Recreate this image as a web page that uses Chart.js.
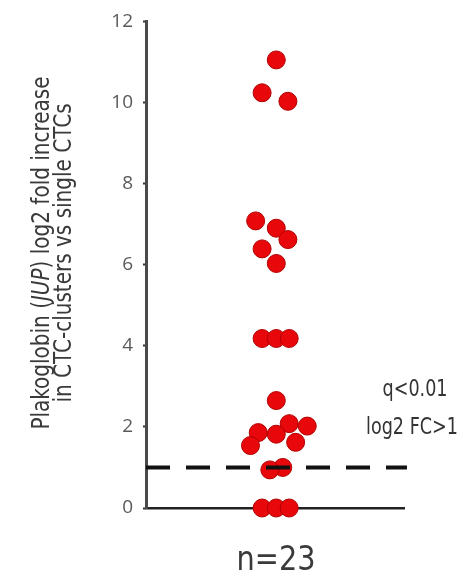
<!DOCTYPE html>
<html>
<head>
<meta charset="utf-8">
<script src="https://cdn.jsdelivr.net/npm/chart.js@4/dist/chart.umd.min.js"></script>
<style>
  html, body { margin: 0; padding: 0; background: #ffffff; }
  #wrap { width: 475px; height: 577px; }
</style>
</head>
<body>
<div id="wrap"><canvas id="plot" width="475" height="577"></canvas></div>
<script>
// JUP log2 fold increase per patient (CTC-clusters vs single CTCs)
const foldIncrease = [11.05, 10.24, 10.03, 7.08, 6.90, 6.62, 6.39, 6.03, 4.18, 4.18, 4.18,
                      2.65, 2.08, 2.02, 1.86, 1.82, 1.62, 1.54, 1.00, 0.94, 0, 0, 0];
// horizontal spread of the dots around the single group
const spread = [0.01, -0.10, 0.10, -0.15, 0.01, 0.10, -0.10, 0.01, -0.10, 0.01, 0.11,
                0.01, 0.11, 0.25, -0.13, 0.01, 0.16, -0.19, 0.06, -0.04, -0.10, 0.01, 0.11];
const threshold = 1;            // log2 FC cut-off
const yTicks = [0, 2, 4, 6, 8, 10, 12];
const sampleLabel = 'n=23';
const cutoffLabels = ['q<0.01', 'log2 FC>1'];
const titleLine1 = [['Plakoglobin (', false], ['JUP', true], [') log2 fold increase', false]];
const titleLine2 = 'in CTC-clusters vs single CTCs';

const NARROW = "'Liberation Sans Narrow', 'DejaVu Sans Condensed', 'Roboto Condensed', sans-serif";

const points = foldIncrease.map((v, i) => ({ x: spread[i], y: v }));

// text squeezed along its baseline to get a tall, condensed look
function squeezedText(ctx, text, x, y, squeeze) {
  ctx.save();
  ctx.translate(x, y);
  ctx.scale(squeeze, 1);
  ctx.fillText(text, 0, 0);
  ctx.restore();
}

// draws the rotated axis title, the cut-off note and the sample count
const labelsPlugin = {
  id: 'labels',
  afterDraw(chart) {
    const ctx = chart.ctx;
    const area = chart.chartArea;
    const ys = chart.scales.y;
    ctx.save();
    ctx.fillStyle = '#3a3a3a';
    ctx.textBaseline = 'middle';

    // rotated two-line y title
    const cy = 253;
    const fs = 25;
    const sq = 0.89;
    ctx.save();
    ctx.translate(42, cy);
    ctx.rotate(-Math.PI / 2);
    ctx.scale(sq, 1);
    const fontFor = it => (it ? 'italic ' : '') + fs + 'px ' + NARROW;
    let total = 0;
    titleLine1.forEach(([t, it]) => { ctx.font = fontFor(it); total += ctx.measureText(t).width; });
    let xx = -total / 2;
    ctx.textAlign = 'left';
    titleLine1.forEach(([t, it]) => {
      ctx.font = fontFor(it);
      ctx.fillText(t, xx, 0);
      xx += ctx.measureText(t).width;
    });
    ctx.restore();
    ctx.save();
    ctx.translate(64, cy);
    ctx.rotate(-Math.PI / 2);
    ctx.scale(sq, 1);
    ctx.font = fs + 'px ' + NARROW;
    ctx.textAlign = 'center';
    ctx.fillText(titleLine2, 0, 0);
    ctx.restore();

    // cut-off note to the right of the dashed line
    ctx.font = '23px ' + NARROW;
    ctx.textAlign = 'center';
    ctx.fillStyle = '#333333';
    const ty = ys.getPixelForValue(threshold);
    squeezedText(ctx, cutoffLabels[0], 415, ty - 77, 0.85);
    squeezedText(ctx, cutoffLabels[1], 412, ty - 39, 0.85);

    // sample count under the x axis
    ctx.font = '33px ' + NARROW;
    ctx.fillStyle = '#3a3a3a';
    squeezedText(ctx, sampleLabel, (area.left + area.right) / 2 + 1, area.bottom + 53, 0.97);
    ctx.restore();
  }
};

new Chart(document.getElementById('plot'), {
  data: {
    datasets: [
      {
        type: 'line',
        data: [{ x: -1, y: threshold }, { x: 1.023, y: threshold }],
        borderColor: '#111111',
        borderWidth: 4,
        borderDash: [24, 16],
        borderCapStyle: 'butt',
        pointRadius: 0,
        fill: false,
        clip: false
      },
      {
        type: 'scatter',
        data: points,
        backgroundColor: '#e8070b',
        borderColor: '#b00000',
        borderWidth: 1,
        pointRadius: 9,
        clip: false
      }
    ]
  },
  options: {
    responsive: false,
    animation: false,
    devicePixelRatio: 1,
    layout: { padding: { top: 16, right: 71, bottom: 0, left: 0 } },
    plugins: { legend: { display: false }, tooltip: { enabled: false } },
    scales: {
      x: {
        type: 'linear',
        min: -1,
        max: 1,
        grid: { display: false, drawTicks: false },
        ticks: { display: false },
        border: { display: true, color: '#222222', width: 2.5 },
        afterFit(scale) { scale.height = 69; }
      },
      y: {
        type: 'linear',
        min: 0,
        max: 12,
        afterBuildTicks(scale) { scale.ticks = yTicks.map(v => ({ value: v })); },
        grid: { drawOnChartArea: false, drawTicks: true, tickLength: 3, tickWidth: 2, tickColor: '#333333' },
        border: { display: true, color: '#4a4a4a', width: 3 },
        ticks: {
          color: '#5a5a5a',
          padding: 10,
          font: { family: "'Open Sans', 'DejaVu Sans', sans-serif", size: 19 }
        },
        afterFit(scale) { scale.width = 146; }
      }
    }
  },
  plugins: [labelsPlugin]
});
</script>
</body>
</html>
